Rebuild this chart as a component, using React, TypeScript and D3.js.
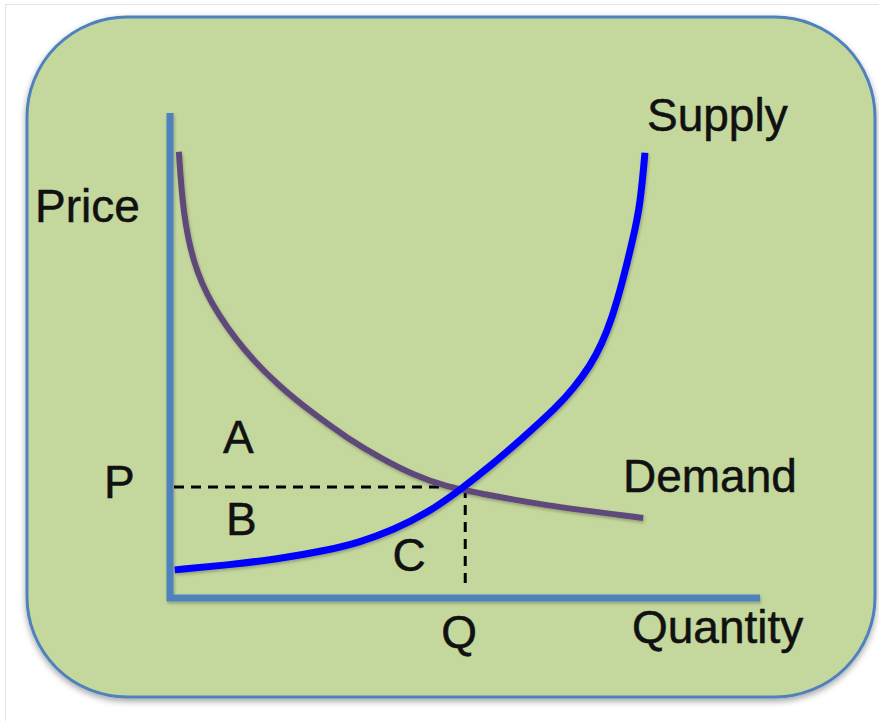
import * as d3 from 'd3';
import React from 'react';

// curve points (quantity, price on a 0..10 scale)
const demandQ = [0.15, 0.22, 0.39, 0.68, 1.24, 1.86, 2.42, 3.0, 3.56, 4.12, 4.69, 5.25, 6.27, 8.02];
const demandP = [9.2, 7.94, 6.91, 6.08, 5.11, 4.35, 3.81, 3.3, 2.89, 2.54, 2.29, 2.16, 1.92, 1.65];
const supplyQ = [0.08, 0.97, 1.81, 2.66, 3.22, 3.78, 4.36, 4.92, 5.47, 5.98, 6.56, 6.83, 7.12, 7.32, 7.49, 7.66, 7.85, 7.97, 8.05];
const supplyP = [0.58, 0.68, 0.8, 0.98, 1.15, 1.4, 1.75, 2.23, 2.76, 3.3, 3.94, 4.31, 4.78, 5.24, 5.77, 6.47, 7.42, 8.1, 9.18];
const eqQ = 4.97;
const eqP = 2.27;
const areaLabels = ['A', 'B', 'C'];
const areaQ = [0.9, 0.95, 3.77];
const areaP = [3.0, 1.3, 0.55];

const W = 879;
const H = 721;
const FONT = '"Liberation Sans", Arial, Helvetica, sans-serif';

export default function App() {
  const x = d3.scaleLinear().domain([0, 10]).range([170, 760]);
  const y = d3.scaleLinear().domain([0, 10]).range([598, 113]);

  const line = d3.line<[number, number]>()
    .x(d => x(d[0]))
    .y(d => y(d[1]))
    .curve(d3.curveBasis);

  const demand = demandQ.map((q, i) => [q, demandP[i]] as [number, number]);
  const supply = supplyQ.map((q, i) => [q, supplyP[i]] as [number, number]);

  const txt = { fontFamily: FONT, fontSize: 46, fill: '#111', stroke: '#111', strokeWidth: 0.5 };

  return (
    <div style={{ position: 'fixed', left: 0, top: 0 }}>
      <svg width={W} height={H} style={{ display: 'block', background: '#fff' }}>
        <defs>
          <filter id="sh" x="-10%" y="-10%" width="120%" height="130%">
            <feDropShadow dx="0" dy="3" stdDeviation="3" floodColor="#000" floodOpacity="0.35" />
          </filter>
          <filter id="lsh" x="-10%" y="-10%" width="120%" height="120%">
            <feDropShadow dx="1" dy="2" stdDeviation="1.5" floodColor="#000" floodOpacity="0.25" />
          </filter>
        </defs>
        <rect x={5.5} y={4.5} width={W} height={H} fill="none" stroke="#e4e4e4" />
        <rect x={27} y={17} width={848} height={680} rx={100} ry={100}
          fill="#c4d79c" stroke="#4f81bd" strokeWidth={3} filter="url(#sh)" />

        {/* axes */}
        <g filter="url(#lsh)">
          <line x1={x(0)} y1={y(10)} x2={x(0)} y2={y(0) + 3} stroke="#4f81bd" strokeWidth={7} />
          <line x1={x(0) - 3} y1={y(0)} x2={x(10)} y2={y(0)} stroke="#4f81bd" strokeWidth={7} />
        </g>

        {/* equilibrium guides */}
        <line x1={x(0) + 4} y1={y(eqP) - 1} x2={x(eqQ)} y2={y(eqP) - 1}
          stroke="#000" strokeWidth={3} strokeDasharray="10 7" />
        <line x1={x(eqQ) + 2} y1={y(eqP)} x2={x(eqQ) + 2} y2={y(0) - 8}
          stroke="#000" strokeWidth={3} strokeDasharray="10 7" />

        {/* curves */}
        <g filter="url(#lsh)">
          <path d={line(demand) ?? ''} fill="none" stroke="#5f497a" strokeWidth={6} />
          <path d={line(supply) ?? ''} fill="none" stroke="#0000ff" strokeWidth={7} />
        </g>

        {/* labels */}
        <text x={35} y={222} {...txt}>Price</text>
        <text x={647} y={131} {...txt}>Supply</text>
        <text x={623} y={492} {...txt}>Demand</text>
        <text x={632} y={643} {...txt}>Quantity</text>
        <text x={104} y={498} {...txt}>P</text>
        <text x={x(eqQ) - 22} y={648} {...txt}>Q</text>
        {areaLabels.map((l, i) => (
          <text key={l} x={x(areaQ[i])} y={y(areaP[i])} {...txt}>{l}</text>
        ))}
      </svg>
    </div>
  );
}
